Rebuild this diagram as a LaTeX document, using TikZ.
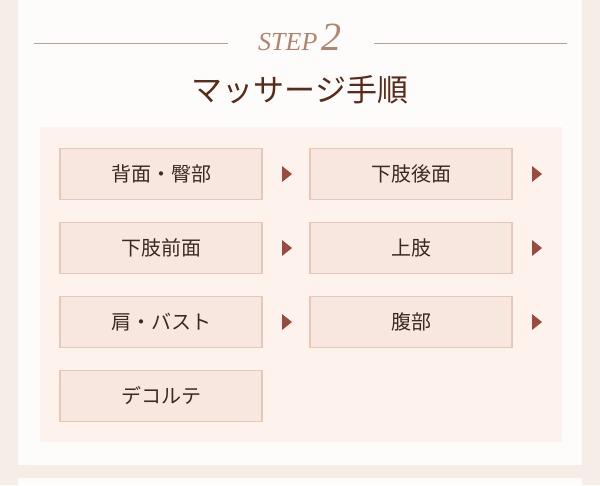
\documentclass[tikz,border=0pt]{standalone}
\usepackage{fontspec}
\newfontfamily\cjk{Noto Sans CJK JP}
\setmainfont{Liberation Serif}
\definecolor{outerbg}{HTML}{F5EDE6}
\definecolor{card}{HTML}{FEFCFA}
\definecolor{inner}{HTML}{FDF3EC}
\definecolor{boxfill}{HTML}{F8E7DE}
\definecolor{boxline}{HTML}{E5C8B5}
\definecolor{txt}{HTML}{3A2A22}
\definecolor{title}{HTML}{5A2A18}
\definecolor{stepc}{HTML}{B08570}
\definecolor{arr}{HTML}{9A4A3E}
\begin{document}
\begin{tikzpicture}[x=1pt,y=-1pt,
  stepbox/.style={draw=boxline,line width=1.5pt,fill=boxfill,minimum width=202pt,minimum height=51pt,inner sep=0pt,font=\cjk\fontsize{20}{20}\selectfont,text=txt},
  tri/.style={fill=arr}]
\fill[outerbg] (0,0) rectangle (600,485);
\fill[card] (18,0) rectangle (582,465);
\fill[card] (18,478) rectangle (582,485);
\fill[inner] (40,127) rectangle (562,442);
\draw[stepc!80,line width=1pt] (34,43) -- (228,43) (374,43) -- (567,43);
\node[text=stepc,font=\itshape\fontsize{26}{26}\selectfont] (step) at (300,37) {STEP\,{\fontsize{40}{40}\selectfont 2}};
\node[text=title,font=\cjk\fontsize{31}{31}\selectfont] (ttl) at (300,90) {マッサージ手順};
\node[stepbox] (a) at (161,174) {背面・臀部};
\node[stepbox] (b) at (411,174) {下肢後面};
\node[stepbox] (c) at (161,248) {下肢前面};
\node[stepbox] (d) at (411,248) {上肢};
\node[stepbox] (e) at (161,322) {肩・バスト};
\node[stepbox] (f) at (411,322) {腹部};
\node[stepbox] (g) at (161,396) {デコルテ};
\foreach \y in {174,248,322}{
  \fill[tri] (282,\y-8) -- (292,\y) -- (282,\y+8) -- cycle;
  \fill[tri] (532,\y-8) -- (542,\y) -- (532,\y+8) -- cycle;}
\end{tikzpicture}
\end{document}
